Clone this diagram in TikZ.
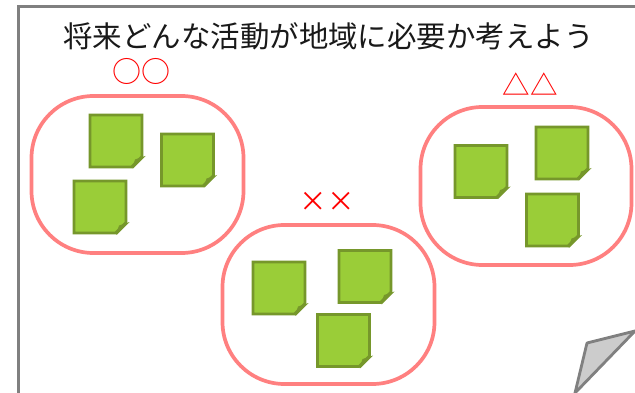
\documentclass[tikz,border=0pt]{standalone}
\usepackage{fontspec}
\newfontfamily\cjk{Noto Sans CJK JP}[Scale=1]
\definecolor{notefill}{HTML}{9ACD38}
\definecolor{noteedge}{HTML}{76972B}
\definecolor{blobline}{HTML}{FF8080}
\definecolor{frameline}{HTML}{808080}
\definecolor{curlfill}{HTML}{CCCCCC}
\tikzset{
  blob/.style={draw=blobline,line width=3.7pt,fill=white,rounded corners=62pt},
  titletext/.style={inner sep=0pt,font=\cjk\fontsize{29.45}{32}\selectfont,text=black!90},
  marktext/.style={inner sep=0pt,font=\cjk\fontsize{29}{30}\selectfont,text=red},
  smallmark/.style={marktext,font=\cjk\fontsize{27.5}{30}\selectfont},
  notebody/.style={draw=noteedge,line width=2.7pt,fill=notefill,line join=miter},
  notefold/.style={fill=noteedge,draw=none},
  curl/.style={draw=frameline,line width=2.8pt,fill=curlfill,line join=round},
  sheet/.style={draw=frameline,line width=3pt}
}
\newcommand{\sticky}[2]{%
  \draw[notebody] (#1,#2) -- ++(52,0) -- ++(0,41.5) -- ++(-10.5,10.5) -- ++(-41.5,0) -- cycle;
  \fill[notefold] ({#1+55.5},{#2+41}) -- ++(-12.5,12.5) -- ++(-1,0) -- ++(3,-9) -- cycle;
}
\begin{document}
\begin{tikzpicture}[x=1pt,y=-1pt]
\useasboundingbox (0,0) rectangle (635,393);
\fill[white] (0,0) rectangle (635,393);
\coordinate (sheetbl) at (18,393);
\coordinate (sheettl) at (18,7);
\coordinate (sheettr) at (635,7);
\draw[sheet] (sheetbl) -- (sheettl) -- (sheettr);
\node[titletext] (title) at (328.5,36.5) {将来どんな活動が地域に必要か考えよう};
\node[marktext] (m1) at (141,71) {○○};
\node[smallmark] (m2) at (530,84.5) {△△};
\node[smallmark] (m3) at (327,202) {××};
\draw[blob] (31.5,96) rectangle (243.5,253);
\draw[blob] (222.5,225) rectangle (434.5,384);
\draw[blob] (420.5,107) rectangle (631.5,265);
\sticky{90}{115}
\sticky{161.5}{134}
\sticky{74}{181}
\sticky{455}{145.5}
\sticky{536}{127}
\sticky{526.5}{194}
\sticky{253}{262}
\sticky{339}{250.5}
\sticky{317.5}{314.5}
\draw[curl] (587,343) -- (635,331) -- (575,393) -- cycle;
\end{tikzpicture}
\end{document}
